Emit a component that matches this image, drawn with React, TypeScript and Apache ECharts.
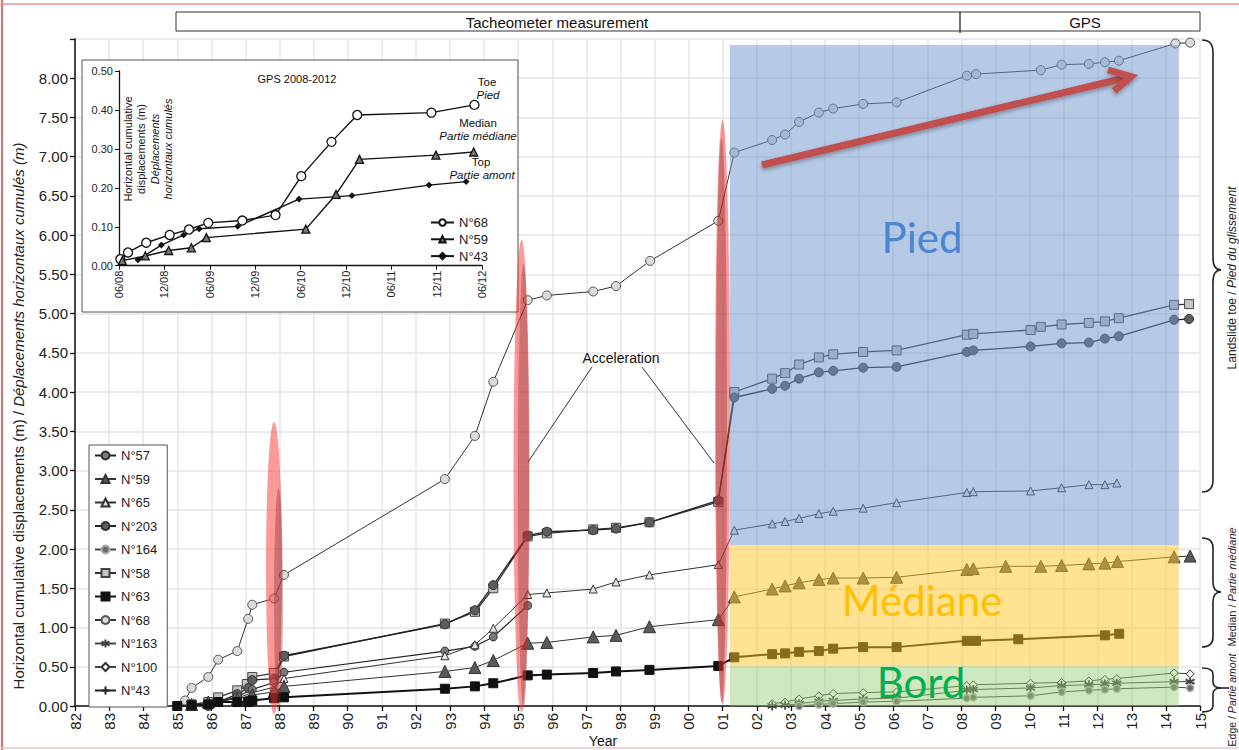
import React, { useEffect, useRef } from "react";
import * as echarts from "echarts";

type P = [number, number];

const F = "'Liberation Sans', Arial, sans-serif";
const CAL = "Lato, 'Open Sans', sans-serif";

// ---------- main chart data (year, cumulative displacement m) ----------
const n68: P[] = [
  [1985.0, 0.0], [1985.23, 0.07], [1985.42, 0.23], [1985.91, 0.37], [1986.2, 0.59], [1986.76, 0.7],
  [1987.08, 1.11], [1987.2, 1.29], [1987.84, 1.37], [1988.13, 1.67], [1992.85, 2.89], [1993.73, 3.44],
  [1994.27, 4.13], [1995.28, 5.17], [1995.84, 5.23], [1997.2, 5.28], [1997.87, 5.35], [1998.87, 5.67],
  [2000.87, 6.18], [2001.34, 7.05], [2002.45, 7.21], [2002.83, 7.28], [2003.24, 7.44], [2003.82, 7.56],
  [2004.24, 7.61], [2005.12, 7.67], [2006.1, 7.69], [2008.16, 8.03], [2008.43, 8.05], [2010.33, 8.1],
  [2010.94, 8.17], [2011.74, 8.18], [2012.21, 8.2], [2012.62, 8.22], [2014.28, 8.44], [2014.71, 8.45],
];
const n58: P[] = [
  [1985.42, 0.02], [1985.91, 0.05], [1986.2, 0.11], [1986.76, 0.2], [1987.04, 0.28], [1987.2, 0.37],
  [1987.84, 0.42], [1988.13, 0.63], [1992.85, 1.05], [1993.73, 1.2], [1994.27, 1.5], [1995.28, 2.16],
  [1995.84, 2.2], [1997.2, 2.25], [1997.87, 2.27], [1998.85, 2.34], [2000.87, 2.6], [2001.34, 4.0],
  [2002.45, 4.17], [2002.83, 4.24], [2003.24, 4.35], [2003.82, 4.44], [2004.24, 4.48], [2005.12, 4.51],
  [2006.1, 4.53], [2008.16, 4.73], [2008.35, 4.74], [2010.03, 4.79], [2010.33, 4.83], [2010.94, 4.86],
  [2011.74, 4.88], [2012.21, 4.9], [2012.62, 4.94], [2014.24, 5.11], [2014.68, 5.12],
];
const n203: P[] = [
  [1985.91, 0.0], [1986.2, 0.05], [1986.76, 0.15], [1987.08, 0.23], [1987.2, 0.33], [1987.84, 0.35],
  [1988.13, 0.64], [1992.85, 1.04], [1993.73, 1.22], [1994.27, 1.54], [1995.28, 2.17], [1995.84, 2.22],
  [1997.2, 2.24], [1997.87, 2.26], [1998.85, 2.34], [2000.87, 2.62], [2001.34, 3.93], [2002.45, 4.04],
  [2002.83, 4.08], [2003.24, 4.17], [2003.82, 4.25], [2004.24, 4.27], [2005.12, 4.31], [2006.1, 4.32],
  [2008.16, 4.51], [2008.35, 4.53], [2010.03, 4.58], [2010.94, 4.62], [2011.74, 4.63], [2012.21, 4.68],
  [2012.62, 4.71], [2014.24, 4.92], [2014.68, 4.93],
];
const n57: P[] = [
  [1985.91, 0.02], [1986.2, 0.05], [1986.76, 0.12], [1987.2, 0.21], [1987.84, 0.3], [1988.13, 0.43],
  [1992.85, 0.7], [1993.73, 0.76], [1994.27, 0.88], [1995.28, 1.28],
];
const n65: P[] = [
  [1985.42, 0.01], [1985.91, 0.03], [1986.76, 0.1], [1987.2, 0.17], [1987.84, 0.24], [1988.13, 0.35],
  [1992.85, 0.64], [1993.73, 0.78], [1994.27, 0.99], [1995.28, 1.42], [1995.84, 1.44], [1997.2, 1.49],
  [1997.87, 1.58], [1998.85, 1.67], [2000.87, 1.8], [2001.34, 2.24], [2002.45, 2.32], [2002.83, 2.35],
  [2003.24, 2.39], [2003.82, 2.45], [2004.24, 2.48], [2005.12, 2.52], [2006.1, 2.59], [2008.16, 2.72],
  [2008.35, 2.73], [2010.03, 2.74], [2010.94, 2.78], [2011.74, 2.82], [2012.21, 2.82], [2012.56, 2.84],
];
const n59: P[] = [
  [1985.42, 0.02], [1985.91, 0.05], [1986.76, 0.09], [1987.2, 0.14], [1987.84, 0.18], [1988.13, 0.25],
  [1992.85, 0.44], [1993.73, 0.49], [1994.27, 0.58], [1995.28, 0.8], [1995.84, 0.81], [1997.2, 0.88],
  [1997.87, 0.9], [1998.85, 1.01], [2000.87, 1.1], [2001.34, 1.39], [2002.45, 1.49], [2002.83, 1.53],
  [2003.24, 1.57], [2003.82, 1.61], [2004.24, 1.63], [2005.12, 1.63], [2006.1, 1.64], [2008.16, 1.74],
  [2008.35, 1.75], [2009.3, 1.78], [2010.33, 1.78], [2010.94, 1.79], [2011.74, 1.81], [2012.21, 1.82],
  [2012.58, 1.84], [2014.24, 1.9], [2014.71, 1.91],
];
const n63: P[] = [
  [1985.0, 0.0], [1985.42, 0.01], [1985.91, 0.02], [1986.2, 0.05], [1986.76, 0.05], [1987.08, 0.05],
  [1987.2, 0.07], [1987.84, 0.1], [1988.13, 0.11], [1992.85, 0.22], [1993.73, 0.25], [1994.27, 0.29],
  [1995.28, 0.39], [1995.84, 0.4], [1997.2, 0.42], [1997.87, 0.44], [1998.85, 0.46], [2000.87, 0.51],
  [2001.34, 0.62], [2002.45, 0.66], [2002.83, 0.67], [2003.24, 0.69], [2003.82, 0.7], [2004.24, 0.73],
  [2005.12, 0.75], [2006.1, 0.75], [2008.16, 0.83], [2008.43, 0.83], [2009.67, 0.85], [2012.21, 0.9],
  [2012.63, 0.92],
];
const n100: P[] = [
  [2002.45, 0.03], [2002.83, 0.05], [2003.24, 0.09], [2003.82, 0.13], [2004.24, 0.16], [2005.12, 0.17],
  [2006.1, 0.18], [2008.16, 0.26], [2008.35, 0.27], [2010.03, 0.29], [2010.94, 0.3], [2011.74, 0.32],
  [2012.21, 0.34], [2012.56, 0.35], [2014.24, 0.42], [2014.71, 0.41],
];
const n163: P[] = [
  [2002.45, 0.0], [2002.83, 0.01], [2003.24, 0.03], [2003.82, 0.06], [2004.24, 0.07], [2005.12, 0.09],
  [2006.1, 0.1], [2008.16, 0.2], [2008.35, 0.21], [2010.03, 0.23], [2010.94, 0.26], [2011.74, 0.27],
  [2012.21, 0.28], [2012.56, 0.29], [2014.24, 0.31], [2014.71, 0.31],
];
const n164: P[] = [
  [2003.24, 0.0], [2003.82, 0.02], [2004.24, 0.03], [2005.12, 0.05], [2006.1, 0.06], [2008.16, 0.1],
  [2008.35, 0.11], [2010.03, 0.13], [2010.94, 0.18], [2011.74, 0.2], [2012.21, 0.21], [2012.56, 0.22],
  [2014.24, 0.24], [2014.71, 0.23],
];
const n43: P[] = [];

// ---------- inset data (months since 06/2008, displacement m) ----------
const g68: P[] = [
  [0.18, 0.017], [1.19, 0.034], [3.6, 0.059], [6.7, 0.079], [9.26, 0.093], [11.8, 0.11], [16.3, 0.116],
  [20.7, 0.13], [24.1, 0.23], [28.1, 0.318], [31.5, 0.387], [41.3, 0.393], [47.0, 0.413],
];
const g59: P[] = [
  [0.44, 0.013], [3.48, 0.025], [6.57, 0.039], [9.57, 0.046], [11.55, 0.072], [24.7, 0.094],
  [28.7, 0.183], [31.8, 0.273], [41.9, 0.284], [46.9, 0.292],
];
const g43: P[] = [
  [2.5, 0.015], [5.6, 0.053], [8.55, 0.079], [10.6, 0.095], [15.7, 0.101], [23.8, 0.171], [30.8, 0.18],
  [41.0, 0.207], [45.9, 0.216],
];

const legendNames = ["N°57", "N°59", "N°65", "N°203", "N°164", "N°58", "N°63", "N°68", "N°163", "N°100", "N°43"];
const insetNames = ["N°68 ", "N°59 ", "N°43 "];

// zones (year range, value range)
const zoneX: P = [2001.21, 2014.38];
const zonePied: P = [2.05, 8.42];
const zoneMed: P = [0.52, 2.05];
const zoneBord: P = [0, 0.52];

const STAR = "path://M5,0L5,10M0.7,2.5L9.3,7.5M0.7,7.5L9.3,2.5";
const PLUS = "path://M5,0L5,10M0,5L10,5";

function mainSeries(
  name: string, data: P[], symbol: string, size: number, fill: string, stroke: string,
  lw: number, lc: string, bw = 1
) {
  return {
    name, type: "line", data, xAxisIndex: 0, yAxisIndex: 0, z: 2,
    symbol, symbolSize: size, showSymbol: true,
    itemStyle: { color: fill, borderColor: stroke, borderWidth: bw },
    lineStyle: { color: lc, width: lw },
    emphasis: { disabled: true },
  };
}
function insetSeries(name: string, data: P[], symbol: string, size: number, fill: string) {
  return {
    name, type: "line", data, xAxisIndex: 1, yAxisIndex: 1, z: 5,
    symbol, symbolSize: size,
    itemStyle: { color: fill, borderColor: "#111", borderWidth: 1.3 },
    lineStyle: { color: "#111", width: 1.4 },
    emphasis: { disabled: true },
  };
}

function brace(y1: number, ym: number, y2: number, r: number, tail = 0) {
  const a = 1202, b = 1213, c = 1221;
  const st = { stroke: "#222", lineWidth: 1.6, fill: "none" };
  const els: any[] = [
    { type: "bezierCurve", shape: { x1: a, y1, x2: b, y2: y1 + r, cpx1: b, cpy1: y1 }, style: st, z: 20 },
    { type: "line", shape: { x1: b, y1: y1 + r, x2: b, y2: ym - r }, style: st, z: 20 },
    { type: "bezierCurve", shape: { x1: b, y1: ym - r, x2: c, y2: ym, cpx1: b, cpy1: ym }, style: st, z: 20 },
    { type: "bezierCurve", shape: { x1: c, y1: ym, x2: b, y2: ym + r, cpx1: b, cpy1: ym }, style: st, z: 20 },
    { type: "line", shape: { x1: b, y1: ym + r, x2: b, y2: y2 - r }, style: st, z: 20 },
    { type: "bezierCurve", shape: { x1: b, y1: y2 - r, x2: a, y2, cpx1: b, cpy1: y2 }, style: st, z: 20 },
  ];
  if (tail) els.push({ type: "line", shape: { x1: c, y1: ym, x2: c + tail, y2: ym }, style: st, z: 20 });
  return els;
}

function rotText(x: number, y: number, a: string, b: string, size: number) {
  return {
    type: "text", x, y, rotation: Math.PI / 2, z: 20,
    style: {
      text: `{a|${a}}{b|${b}}`, align: "center", verticalAlign: "middle",
      rich: {
        a: { fontSize: size, fontFamily: F, fill: "#222" },
        b: { fontSize: size, fontFamily: F, fill: "#222", fontStyle: "italic" },
      },
    },
  };
}

function ellipse(cx: number, cy: number, rx: number, ry: number, fill: string) {
  return { type: "ellipse", shape: { cx, cy, rx, ry }, style: { fill }, z: 12, silent: true };
}

export default function App() {
  const ref = useRef<HTMLDivElement>(null);
  useEffect(() => {
    if (!ref.current) return;
    const chart = echarts.init(ref.current, undefined, { renderer: "svg" });
    const yrLabel = (v: number) => String(Math.round(v) % 100).padStart(2, "0");
    const moLabel = (v: number) => {
      const k = Math.round(v / 6);
      return (k % 2 === 0 ? "06/" : "12/") + String(8 + Math.floor(k / 2)).padStart(2, "0");
    };
    const axisCol = "#111";
    const option: any = {
      animation: false,
      backgroundColor: "#ffffff",
      grid: [
        { left: 75, right: 39, top: 38.75, bottom: 44 },
        { left: 119, top: 71, width: 363, height: 194.7 },
      ],
      xAxis: [
        {
          type: "value", gridIndex: 0, min: 1982, max: 2015, interval: 1,
          axisLine: { show: true, onZero: false, lineStyle: { color: axisCol, width: 1.5 } },
          axisTick: { show: true, length: 5, lineStyle: { color: axisCol, width: 1.3 } },
          axisLabel: { rotate: 90, fontSize: 15, fontFamily: F, color: "#222", margin: 7, formatter: yrLabel },
          splitLine: { show: true, lineStyle: { color: "#e6e6e6", width: 1.5 } },
        },
        {
          type: "value", gridIndex: 1, min: 0, max: 48, interval: 6, z: 4,
          axisLine: { show: true, onZero: false, lineStyle: { color: axisCol, width: 1.3 } },
          axisTick: { show: true, length: 4, lineStyle: { color: axisCol } },
          axisLabel: { rotate: 90, fontSize: 11, fontFamily: F, color: "#222", margin: 5, formatter: moLabel },
          splitLine: { show: false },
        },
      ],
      yAxis: [
        {
          type: "value", gridIndex: 0, min: 0, max: 8.5, interval: 0.5,
          axisLine: { show: true, lineStyle: { color: axisCol, width: 1.5 } },
          axisTick: { show: true, length: 5, lineStyle: { color: axisCol, width: 1.3 } },
          axisLabel: {
            fontSize: 15, fontFamily: F, color: "#222", margin: 7,
            formatter: (v: number) => (v > 8.4 ? "" : v.toFixed(2)),
          },
          splitLine: { show: true, lineStyle: { color: "#e6e6e6", width: 1.5 } },
        },
        {
          type: "value", gridIndex: 1, min: 0, max: 0.5, interval: 0.1, z: 4,
          axisLine: { show: true, lineStyle: { color: axisCol, width: 1.3 } },
          axisTick: { show: true, length: 4, lineStyle: { color: axisCol } },
          axisLabel: { fontSize: 11, fontFamily: F, color: "#222", margin: 6, formatter: (v: number) => v.toFixed(2) },
          splitLine: { show: false },
        },
      ],
      legend: [
        {
          data: legendNames, orient: "vertical", left: 89, top: 445, selectedMode: false,
          padding: [4, 10, 10, 5], itemWidth: 21, itemHeight: 10, itemGap: 10.5,
          backgroundColor: "#fff", borderColor: "#555", borderWidth: 1, z: 6,
          textStyle: { fontSize: 13, fontFamily: F, color: "#222" },
        },
        {
          data: insetNames, orient: "vertical", left: 430, top: 216, selectedMode: false,
          padding: 0, itemWidth: 23, itemHeight: 8, itemGap: 3.8, z: 6,
          textStyle: { fontSize: 13, fontFamily: F, color: "#222" },
        },
      ],
      series: [
        mainSeries("N°68", n68, "circle", 9, "#d9dcdc", "#555", 1, "#333"),
        mainSeries("N°58", n58, "rect", 9, "#c4c4c4", "#444", 1.3, "#333"),
        mainSeries("N°203", n203, "circle", 9, "#5d5d5d", "#333", 1.3, "#222"),
        mainSeries("N°57", n57, "circle", 8, "#7a7a7a", "#333", 1.2, "#222"),
        mainSeries("N°65", n65, "triangle", 8, "#e2e2e2", "#333", 1, "#333"),
        mainSeries("N°59", n59, "triangle", 12, "#5a5a5a", "#333", 1, "#333"),
        mainSeries("N°63", n63, "rect", 9, "#111", "#111", 2, "#111"),
        mainSeries("N°100", n100, "diamond", 8, "#ffffff", "#333", 1, "#444"),
        mainSeries("N°163", n163, STAR, 9, "#444", "#444", 1, "#444", 1.8),
        mainSeries("N°164", n164, "circle", 7, "#6b6b6b", "#aaa", 1, "#444", 1.5),
        mainSeries("N°43", n43, PLUS, 8, "#222", "#222", 1, "#222", 1.3),
        {
          name: "zones", type: "line", data: [], xAxisIndex: 0, yAxisIndex: 0, z: 3,
          markArea: {
            silent: true, z: 3, label: { show: false },
            data: [
              [{ xAxis: zoneX[0], yAxis: zonePied[1], itemStyle: { color: "rgba(110,150,205,0.5)" } }, { xAxis: zoneX[1], yAxis: zonePied[0] }],
              [{ xAxis: zoneX[0], yAxis: zoneMed[1], itemStyle: { color: "rgba(255,200,40,0.5)" } }, { xAxis: zoneX[1], yAxis: zoneMed[0] }],
              [{ xAxis: zoneX[0], yAxis: zoneBord[1], itemStyle: { color: "rgba(150,205,110,0.45)" } }, { xAxis: zoneX[1], yAxis: zoneBord[0] }],
            ],
          },
        },
        insetSeries("N°68 ", g68, "circle", 9, "#ffffff"),
        insetSeries("N°59 ", g59, "triangle", 8, "#777777"),
        insetSeries("N°43 ", g43, "diamond", 5, "#111111"),
      ],
      graphic: [
        // frame lines
        { type: "line", shape: { x1: 2, y1: 0, x2: 2, y2: 750 }, style: { stroke: "#e23b3b", lineWidth: 1.5 }, z: 30 },
        { type: "line", shape: { x1: 0, y1: 4, x2: 1239, y2: 4 }, style: { stroke: "#f39090", lineWidth: 1.5 }, z: 30 },
        { type: "line", shape: { x1: 0, y1: 748, x2: 1239, y2: 748 }, style: { stroke: "#f7c4c4", lineWidth: 1.5 }, z: 30 },
        // top banner
        { type: "rect", shape: { x: 176, y: 12, width: 1024, height: 19 }, style: { fill: "#fff", stroke: "#333", lineWidth: 1 }, z: 20 },
        { type: "line", shape: { x1: 960, y1: 12, x2: 960, y2: 33 }, style: { stroke: "#222", lineWidth: 1.3 }, z: 21 },
        { type: "text", x: 557, y: 22, z: 21, style: { text: "Tacheometer measurement", fontSize: 15, fontFamily: F, fill: "#111", align: "center", verticalAlign: "middle" } },
        { type: "text", x: 1085, y: 22, z: 21, style: { text: "GPS", fontSize: 15, fontFamily: F, fill: "#111", align: "center", verticalAlign: "middle" } },
        // inset box
        { type: "rect", shape: { x: 82, y: 60, width: 436, height: 252 }, style: { fill: "#fff", stroke: "#555", lineWidth: 1 }, z: 3 },
        { type: "text", x: 297, y: 79, z: 6, style: { text: "GPS 2008-2012", fontSize: 11, fontFamily: F, fill: "#111", align: "center", verticalAlign: "middle" } },
        { type: "text", x: 487, y: 82, z: 6, style: { text: "Toe", fontSize: 11.5, fontFamily: F, fill: "#111", align: "center", verticalAlign: "middle" } },
        { type: "text", x: 488, y: 95, z: 6, style: { text: "Pied", fontSize: 11.5, fontStyle: "italic", fontFamily: F, fill: "#111", align: "center", verticalAlign: "middle" } },
        { type: "text", x: 478, y: 123, z: 6, style: { text: "Median", fontSize: 11.5, fontFamily: F, fill: "#111", align: "center", verticalAlign: "middle" } },
        { type: "text", x: 478, y: 136, z: 6, style: { text: "Partie médiane", fontSize: 11.5, fontStyle: "italic", fontFamily: F, fill: "#111", align: "center", verticalAlign: "middle" } },
        { type: "text", x: 481, y: 162, z: 6, style: { text: "Top", fontSize: 11.5, fontFamily: F, fill: "#111", align: "center", verticalAlign: "middle" } },
        { type: "text", x: 482, y: 175, z: 6, style: { text: "Partie amont", fontSize: 11.5, fontStyle: "italic", fontFamily: F, fill: "#111", align: "center", verticalAlign: "middle" } },
        {
          type: "text", x: 148, y: 149, rotation: Math.PI / 2, z: 6,
          style: {
            text: "{n|Horizontal cumulative}\n{n|displacements (m)}\n{i|Déplacements}\n{i|horizontaux cumulés}",
            align: "center", verticalAlign: "middle",
            rich: {
              n: { fontSize: 11, fontFamily: F, fill: "#111", lineHeight: 13.5 },
              i: { fontSize: 11, fontFamily: F, fill: "#111", fontStyle: "italic", lineHeight: 13.5 },
            },
          },
        },
        // red ellipses
        ellipse(274, 568, 8, 146, "rgba(255,50,50,0.5)"),
        ellipse(278.5, 600, 4.5, 112, "rgba(120,40,40,0.35)"),
        ellipse(521.5, 476, 8, 236, "rgba(255,50,50,0.5)"),
        ellipse(523.5, 486, 5.5, 222, "rgba(120,40,40,0.35)"),
        ellipse(722.5, 412, 7.5, 292, "rgba(255,50,50,0.5)"),
        ellipse(721.5, 420, 5.5, 282, "rgba(120,40,40,0.35)"),
        // arrow
        {
          type: "polyline", z: 15, shape: { points: [[762, 165], [1129, 77]] },
          style: { stroke: "#c0504d", lineWidth: 7, shadowBlur: 4, shadowColor: "rgba(0,0,0,0.35)", shadowOffsetY: 2 },
        },
        {
          type: "polyline", z: 15, shape: { points: [[1108, 70], [1131, 76.5], [1114, 91]] },
          style: { stroke: "#c0504d", lineWidth: 7, lineJoin: "miter", fill: "none", shadowBlur: 4, shadowColor: "rgba(0,0,0,0.35)", shadowOffsetY: 2 },
        },
        // zone labels
        { type: "text", x: 922, y: 237, z: 15, style: { text: "Pied", fontSize: 42, fontFamily: CAL, fill: "#4a86d4", align: "center", verticalAlign: "middle" } },
        { type: "text", x: 922, y: 600, z: 15, style: { text: "Médiane", fontSize: 42, fontFamily: CAL, fill: "#ffc000", align: "center", verticalAlign: "middle" } },
        { type: "text", x: 921, y: 682, z: 15, style: { text: "Bord", fontSize: 42, fontFamily: CAL, fill: "#00b050", align: "center", verticalAlign: "middle" } },
        // acceleration
        { type: "text", x: 621, y: 358, z: 15, style: { text: "Acceleration", fontSize: 14, fontFamily: F, fill: "#111", align: "center", verticalAlign: "middle" } },
        { type: "line", z: 15, shape: { x1: 592, y1: 367, x2: 528, y2: 462 }, style: { stroke: "#333", lineWidth: 1 } },
        { type: "line", z: 15, shape: { x1: 642, y1: 367, x2: 714, y2: 463 }, style: { stroke: "#333", lineWidth: 1 } },
        // braces
        ...brace(40, 270, 492, 12),
        ...brace(538, 592, 647, 10),
        ...brace(668, 688, 712, 6, 8),
        rotText(1232, 278, "Landslide toe / ", "Pied du glissement", 12),
        rotText(1232, 587, "Median / ", "Partie médiane", 11),
        rotText(1232, 700, "Edge / ", "Partie amont", 10.5),
        // axis titles
        rotText(18, 416, "Horizontal cumulative displacements (m) / ", "Déplacements horizontaux cumulés (m)", 15),
        { type: "text", x: 603, y: 741, z: 15, style: { text: "Year", fontSize: 14, fontFamily: F, fill: "#111", align: "center", verticalAlign: "middle" } },
      ],
    };
    chart.setOption(option);
    return () => chart.dispose();
  }, []);
  return <div ref={ref} style={{ position: "fixed", left: 0, top: 0, width: 1239, height: 750 }} />;
}
